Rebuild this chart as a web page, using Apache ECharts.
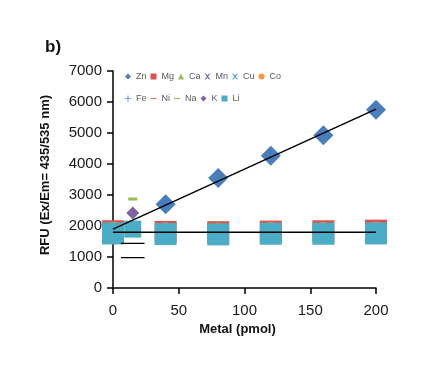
<!DOCTYPE html>
<html><head><meta charset="utf-8">
<script src="https://cdn.jsdelivr.net/npm/echarts@6/dist/echarts.min.js"></script>
<style>html,body{margin:0;padding:0;background:#fff}#c{width:443px;height:373px}</style>
</head><body><div id="c"></div>
<script>
const xTicks = [0, 50, 100, 150, 200];
const doses = [0, 40, 80, 120, 160, 200];
const zn = [1760, 2700, 3550, 4270, 4930, 5750];
const mg = [1830, 1810, 1800, 1820, 1830, 1850];
const ca = [1790, 1780, 1780, 1790, 1790, 1800];
const mn = [1770, 1760, 1760, 1770, 1770, 1770];
const cu = [1760, 1750, 1750, 1760, 1760, 1760];
const co = [1880, 1860, 1850, 1870, 1870, 1880];
const fe = [1700, 1690, 1690, 1700, 1690, 1690];
const ni = [1760, 1750, 1750, 1760, 1760, 1760];
const li = [1760, 1740, 1730, 1750, 1750, 1760];
const extraX = 15;
const liExtra = 1900;
const kExtra = 2420;
const naExtra = 2870;
const blackDashY = [1440, 980];
const blackDashX = [6, 24];
const znFit = [[0, 1900], [200, 5770]];
const flatFit = [[0, 1800], [200, 1800]];

const pts = v => doses.map((d, i) => [d, v[i]]);
const chart = echarts.init(document.getElementById('c'));
const FONT = 'Liberation Sans, Arial';
const legText = {fontSize: 9, color: '#595959', fontFamily: FONT,
  rich: {a: {width: 13, fontSize: 9, color: '#595959', fontFamily: FONT}}};
const X = 'path://M0,0L2,0L5,3L8,0L10,0L6,5L10,10L8,10L5,7L2,10L0,10L4,5Z';
const PLUS = 'path://M4,0L6,0L6,4L10,4L10,6L6,6L6,10L4,10L4,6L0,6L0,4L4,4Z';
const DASH = 'path://M0,4L10,4L10,6L0,6Z';
const mk = (name, icon) => ({name, icon});
const legBase = {padding: 0, itemWidth: 6, itemHeight: 6, itemGap: 4, textStyle: legText, selectedMode: false,
  formatter: n => '{a|' + n + '}'};
chart.setOption({
  animation: false,
  title: {text: 'b)', left: 40, top: 34, textStyle: {fontSize: 17, fontWeight: 'bold', color: '#111', fontFamily: FONT}},
  legend: [
    Object.assign({data: [mk('Zn','diamond'), mk('Mg','rect'), mk('Ca','triangle'), mk('Mn', X), mk('Cu', X), mk('Co','circle')],
     left: 125, top: 72}, legBase),
    Object.assign({data: [mk('Fe', PLUS), mk('Ni', DASH), mk('Na', DASH), mk('K','diamond'), mk('Li','rect')],
     left: 125, top: 94}, legBase)
  ],
  grid: {left: 113, right: 67, top: 71, bottom: 85},
  xAxis: {type: 'value', min: 0, max: 200, interval: 50, name: 'Metal (pmol)', nameLocation: 'middle', nameGap: 25,
    nameTextStyle: {fontSize: 13, fontWeight: 'bold', color: '#111', fontFamily: FONT, padding: [0, 14, 0, 0]},
    axisLine: {onZero: false, lineStyle: {color: '#000', width: 1.5}},
    axisTick: {length: 6, lineStyle: {color: '#000', width: 1.5}},
    axisLabel: {fontSize: 15, color: '#1a1a1a', margin: 15, fontFamily: FONT},
    splitLine: {show: false}},
  yAxis: {type: 'value', min: 0, max: 7000, interval: 1000, name: 'RFU (Ex/Em= 435/535 nm)', nameLocation: 'middle', nameGap: 61,
    nameTextStyle: {fontSize: 13, fontWeight: 'bold', color: '#111', fontFamily: FONT, padding: [0, 0, 0, 9]},
    axisLine: {show: true, lineStyle: {color: '#000', width: 1.5}},
    axisTick: {show: true, length: 6, lineStyle: {color: '#000', width: 1.5}},
    axisLabel: {fontSize: 15, color: '#1a1a1a', margin: 11, fontFamily: FONT, formatter: v => String(v)},
    splitLine: {show: false}},
  series: [
    {name: 'Fit', type: 'line', data: znFit, symbol: 'none', lineStyle: {color: '#000', width: 1.5}, z: 5},
    {name: 'Zn', type: 'scatter', data: pts(zn), symbol: 'diamond', symbolSize: 20, itemStyle: {color: '#4A7EBB', opacity: 1}, z: 2},
    {name: 'Mg', type: 'scatter', data: pts(mg), symbol: 'rect', symbolSize: 22, itemStyle: {color: '#D9534F', opacity: 1}, z: 2},
    {name: 'Ca', type: 'scatter', data: pts(ca), symbol: 'triangle', symbolSize: 18, itemStyle: {color: '#9BBB59', opacity: 1}, z: 2},
    {name: 'Mn', type: 'scatter', data: pts(mn), symbol: X, symbolSize: 16, itemStyle: {color: '#8064A2', opacity: 1}, z: 2},
    {name: 'Cu', type: 'scatter', data: pts(cu), symbol: X, symbolSize: 16, itemStyle: {color: '#4BACC6', opacity: 1}, z: 2},
    {name: 'Co', type: 'scatter', data: pts(co), symbol: 'circle', symbolSize: 16, itemStyle: {color: '#F79646', opacity: 1}, z: 2},
    {name: 'Fe', type: 'scatter', data: pts(fe), symbol: PLUS, symbolSize: 14, itemStyle: {color: '#7DA3D6', opacity: 1}, z: 2},
    {name: 'Ni', type: 'scatter', data: pts(ni), symbol: DASH, symbolSize: 12, itemStyle: {color: '#E07A78', opacity: 1}, z: 2},
    {name: 'Na', type: 'scatter', data: [[extraX, naExtra]], symbol: 'rect', symbolSize: [9, 3], itemStyle: {color: '#9BBB59', opacity: 1}, z: 3},
    {name: 'Li', type: 'scatter', data: pts(li).concat([{value: [extraX, liExtra], symbolSize: 17}]), symbol: 'rect', symbolSize: 22, itemStyle: {color: '#4BACC6', opacity: 1}, z: 3},
    {name: 'K', type: 'scatter', data: [[extraX, kExtra]], symbol: 'diamond', symbolSize: 13, itemStyle: {color: '#8064A2', opacity: 1}, z: 3},
    {name: 'Flat', type: 'line', data: flatFit, symbol: 'none', lineStyle: {color: '#000', width: 1.5}, z: 5},
    {name: 'Dash', type: 'line', data: [[blackDashX[0], blackDashY[0]], [blackDashX[1], blackDashY[0]], null, [blackDashX[0], blackDashY[1]], [blackDashX[1], blackDashY[1]]], connectNulls: false, symbol: 'none', lineStyle: {color: '#000', width: 1.3}, z: 5}
  ]
});
</script></body></html>
